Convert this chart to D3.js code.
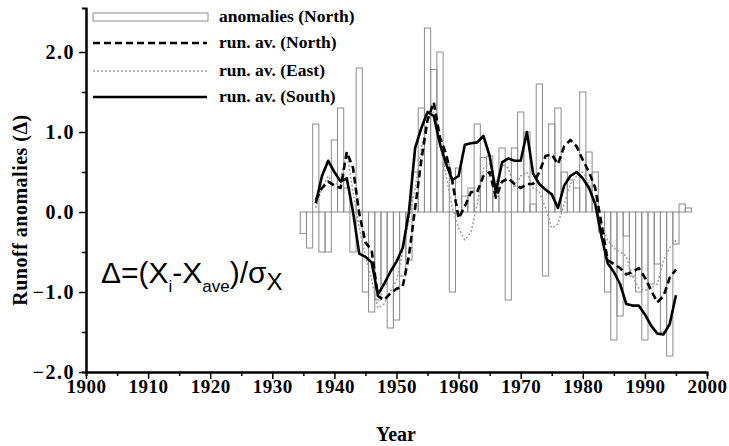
<!DOCTYPE html>
<html>
<head>
<meta charset="utf-8">
<script src="https://cdn.jsdelivr.net/npm/d3@7"></script>
<style>
  body { margin: 0; background: #fff; }
  text { font-family: "Liberation Serif", serif; }
</style>
</head>
<body>
<div id="chart"></div>
<script>
// years and values
var barYears = d3.range(1935, 1998);
var anomNorth = [-0.27, -0.45, 1.1, -0.5, -0.5, 0.9, 1.3, 0.3, -0.5, 1.8,
    -1.0, -1.25, -1.1, -0.9, -1.45, -1.35, -0.8, -0.6, 0.5, 1.3,
    2.3, 1.78, 2.0, 0.6, -1.0, 0.55, 0.2, 0.3, 1.1, 0.68,
    0.7, 0.2, 0.8, -1.1, 0.8, 1.25, 1.0, 0.1, 1.6, -0.8,
    1.1, 1.3, 0.5, 0.4, 0.3, 1.5, 0.75, 0.5, -0.25, -1.0,
    -1.6, -1.3, -0.3, -0.8, -1.0, -1.6, -0.9, -0.65, -1.5, -1.8,
    -0.4, 0.1, 0.05];

var avYears = d3.range(1937, 1996);
var runNorth = [0.15, 0.3, 0.38, 0.33, 0.3, 0.75, 0.55, -0.02, -0.38, -0.48,
    -1.05, -1.1, -1.02, -0.96, -0.93, -0.55, 0.05, 0.65, 1.15, 1.37,
    0.93, 0.72, 0.38, -0.08, 0.07, 0.25, 0.25, 0.45, 0.5, 0.18,
    0.38, 0.42, 0.35, 0.3, 0.35, 0.35, 0.5, 0.7, 0.72, 0.6,
    0.82, 0.9, 0.82, 0.65, 0.5, 0.3, -0.15, -0.6, -0.65, -0.7,
    -0.78, -0.75, -0.7, -0.82, -0.98, -1.13, -1.05, -0.82, -0.72];
var runEast = [0.05, 0.3, 0.45, 0.33, 0.4, 0.75, 0.25, -0.2, -0.55, -0.85,
    -1.2, -1.15, -1.0, -0.85, -0.5, -0.1, 0.3, 0.8, 1.15, 1.25,
    0.85, 0.45, 0.05, -0.2, -0.35, -0.25, 0.1, 0.55, 0.6, 0.35,
    0.6, 0.55, 0.3, 0.45, 0.5, 0.3, 0.25, 0.05, -0.2, -0.15,
    0.1, 0.35, 0.45, 0.5, 0.35, 0.1, -0.15, -0.35, -0.45, -0.5,
    -0.55, -0.8, -0.95, -0.98, -0.95, -0.9, -0.6, -0.45, -0.35];
var runSouth = [0.11, 0.45, 0.64, 0.5, 0.38, 0.42, 0.0, -0.52, -0.56, -0.63,
    -1.03, -0.9, -0.75, -0.62, -0.45, 0.0, 0.8, 1.05, 1.25, 1.2,
    0.85, 0.6, 0.4, 0.45, 0.84, 0.86, 0.87, 0.95, 0.7, 0.25,
    0.62, 0.67, 0.64, 0.64, 1.0, 0.48, 0.35, 0.28, 0.22, 0.05,
    0.33, 0.45, 0.5, 0.42, 0.3, 0.1, -0.3, -0.64, -0.75, -0.9,
    -1.15, -1.17, -1.17, -1.28, -1.42, -1.52, -1.53, -1.4, -1.04];

var xTicks = d3.range(1900, 2001, 10);
var yTicks = [-2, -1, 0, 1, 2];
var legendLabels = ["anomalies (North)", "run. av. (North)", "run. av. (East)", "run. av. (South)"];

//svg size
var svgWidth = 729;
var svgHeight = 446;

var svg = d3.select("#chart")
    .append("svg")
    .attr("width", svgWidth)
    .attr("height", svgHeight);

//scales
var xScale = d3.scaleLinear().domain([1900, 2000]).range([86, 707]);
var yScale = d3.scaleLinear().domain([-2, 2.55]).range([372, 8]);
var barW = xScale(1901) - xScale(1900);

//bars of the anomalies, drawn as outlines
svg.append("g")
    .selectAll("rect")
    .data(barYears)
    .enter()
    .append("rect")
    .attr("x", (d, i) => xScale(d) - barW / 2)
    .attr("y", (d, i) => yScale(Math.max(0, anomNorth[i])))
    .attr("width", barW)
    .attr("height", (d, i) => Math.abs(yScale(anomNorth[i]) - yScale(0)))
    .attr("fill", "none")
    .attr("stroke", "#8c8c8c")
    .attr("stroke-width", 1);

//running averages
function drawLine(values, stroke, width, dash) {
    var line = d3.line()
        .x((d, i) => xScale(avYears[i]))
        .y(d => yScale(d));
    svg.append("path")
        .datum(values)
        .attr("d", line)
        .attr("fill", "none")
        .attr("stroke", stroke)
        .attr("stroke-width", width)
        .attr("stroke-dasharray", dash)
        .attr("stroke-linejoin", "round");
}
drawLine(runEast, "#a0a0a0", 1.5, "2,2");
drawLine(runNorth, "#000", 2.6, "7,4");
drawLine(runSouth, "#000", 2.6, null);

//axes
var xAxis = d3.axisBottom(xScale).tickValues(xTicks).tickFormat(d3.format("d"))
    .tickSize(7).tickSizeOuter(0).tickPadding(1);
var xMinor = d3.axisBottom(xScale).tickValues(d3.range(1905, 2000, 10))
    .tickSize(4).tickFormat("");
var yAxis = d3.axisLeft(yScale).tickValues(yTicks).tickFormat(d3.format(".1f"))
    .tickSize(7).tickSizeOuter(0).tickPadding(4);
var yMinor = d3.axisLeft(yScale).tickValues([-1.5, -0.5, 0.5, 1.5])
    .tickSize(4).tickFormat("");

svg.append("g").attr("transform", "translate(0,372)").call(xMinor);
var gx = svg.append("g").attr("transform", "translate(0,372)").call(xAxis);
svg.append("g").attr("transform", "translate(86,0)").call(yMinor);
var gy = svg.append("g").attr("transform", "translate(86,0)").call(yAxis);

svg.selectAll(".domain").attr("stroke", "#000").attr("stroke-width", 2);
svg.selectAll(".tick line").attr("stroke", "#000").attr("stroke-width", 1.5);
svg.selectAll(".tick text")
    .attr("fill", "#000")
    .style("font-family", "Liberation Serif")
    .style("font-weight", "bold")
    .style("font-size", "19px");
gx.selectAll(".tick text").style("letter-spacing", "0.5px");
gy.selectAll(".tick text").style("font-size", "20px").style("letter-spacing", "1.5px");

//axis titles
svg.append("text")
    .attr("x", 396)
    .attr("y", 441)
    .attr("text-anchor", "middle")
    .style("font-weight", "bold")
    .style("font-size", "20px")
    .text("Year");

svg.append("text")
    .attr("transform", "rotate(-90)")
    .attr("x", -210)
    .attr("y", 27)
    .attr("text-anchor", "middle")
    .style("font-weight", "bold")
    .style("font-size", "20px")
    .style("letter-spacing", "0.5px")
    .text("Runoff  anomalies (\u0394)");

//legend
var legend = svg.append("g");
var rowsY = [17, 43, 71, 97];
legend.append("rect")
    .attr("x", 93).attr("y", rowsY[0] - 4)
    .attr("width", 115).attr("height", 8)
    .attr("fill", "none")
    .attr("stroke", "#8c8c8c");
legend.append("line")
    .attr("x1", 93).attr("x2", 207).attr("y1", rowsY[1]).attr("y2", rowsY[1])
    .attr("stroke", "#000").attr("stroke-width", 2.6).attr("stroke-dasharray", "7,4");
legend.append("line")
    .attr("x1", 93).attr("x2", 207).attr("y1", rowsY[2]).attr("y2", rowsY[2])
    .attr("stroke", "#a0a0a0").attr("stroke-width", 1.5).attr("stroke-dasharray", "2,2");
legend.append("line")
    .attr("x1", 93).attr("x2", 207).attr("y1", rowsY[3]).attr("y2", rowsY[3])
    .attr("stroke", "#000").attr("stroke-width", 2.6);
legend.selectAll("text")
    .data(legendLabels)
    .enter()
    .append("text")
    .attr("x", 219)
    .attr("y", (d, i) => rowsY[i] + 5)
    .style("font-weight", "bold")
    .style("font-size", "17.5px")
    .text(d => d);

//formula
var formula = svg.append("text")
    .attr("x", 101)
    .attr("y", 283)
    .style("font-family", "Liberation Sans")
    .style("font-size", "30px");
formula.append("tspan").text("\u0394=(X");
formula.append("tspan").attr("dy", 9).style("font-size", "17px").text("i");
formula.append("tspan").attr("dy", -9).text("-X");
formula.append("tspan").attr("dy", 9).style("font-size", "17px").text("ave");
formula.append("tspan").attr("dy", -9).text(")/\u03c3");
formula.append("tspan").attr("dy", 7).style("font-size", "24px").text("X");
</script>
</body>
</html>
